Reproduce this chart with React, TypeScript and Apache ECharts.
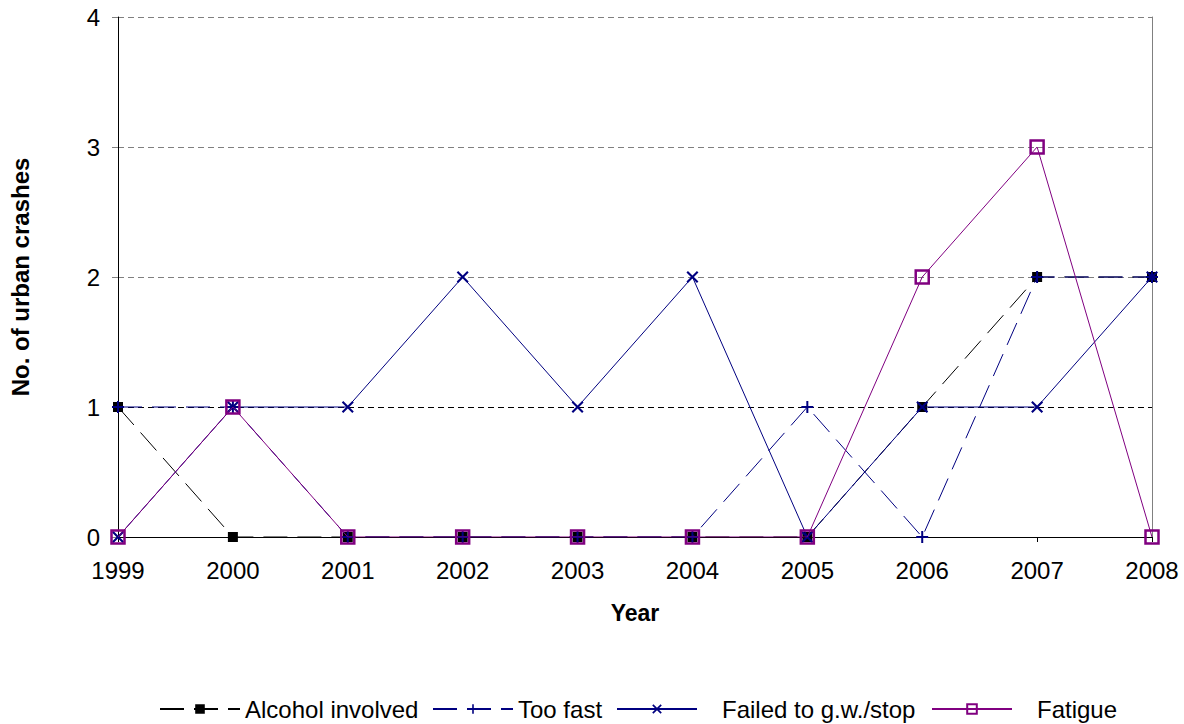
import React, { useEffect, useRef } from "react";
import * as echarts from "echarts";

const years = ["1999", "2000", "2001", "2002", "2003", "2004", "2005", "2006", "2007", "2008"];
const alcohol = [1, 0, 0, 0, 0, 0, 0, 1, 2, 2];
const tooFast = [1, 1, 0, 0, 0, 0, 1, 0, 2, 2];
const failed = [0, 1, 1, 2, 1, 2, 0, 1, 1, 2];
const fatigue = [0, 1, 0, 0, 0, 0, 0, 2, 3, 0];
const seriesNames = ["Alcohol involved", "Too fast", "Failed to g.w./stop", "Fatigue"];

const FONT = "'Liberation Sans', Arial, sans-serif";
const NAVY = "#000080";
const PURPLE = "#800080";

const plusPath = "path://M5,0 L7,0 L7,5 L12,5 L12,7 L7,7 L7,12 L5,12 L5,7 L0,7 L0,5 L5,5 Z";
const xPath = "path://M0,1.5 L1.5,0 L6,4.5 L10.5,0 L12,1.5 L7.5,6 L12,10.5 L10.5,12 L6,7.5 L1.5,12 L0,10.5 L4.5,6 Z";

const legendLefts = [154, 427, 611, 926];
const legendTextPad = [0, 0, 20, 20];

export default function App() {
  const ref = useRef<HTMLDivElement>(null);
  useEffect(() => {
    if (!ref.current) return;
    const chart = echarts.init(ref.current, null, { renderer: "svg" });
    chart.setOption({
      animation: false,
      backgroundColor: "#ffffff",
      grid: { left: 118, right: 32, top: 17, bottom: 187 },
      legend: seriesNames.map((n, i) => ({
        top: 692,
        left: legendLefts[i],
        itemWidth: 80,
        itemHeight: 12,
        itemGap: 0,
        textStyle: {
          fontFamily: FONT,
          fontSize: 24,
          color: "#000",
          padding: [0, 0, 0, legendTextPad[i]],
        },
        data: [n],
      })),
      xAxis: {
        type: "category",
        data: years,
        boundaryGap: false,
        name: "Year",
        nameLocation: "middle",
        nameGap: 64,
        nameTextStyle: { fontFamily: FONT, fontSize: 23, fontWeight: "bold", color: "#000" },
        axisLine: { lineStyle: { color: "#000", width: 1 } },
        axisTick: { show: true, length: 5, lineStyle: { color: "#000" } },
        axisLabel: { fontFamily: FONT, fontSize: 24, color: "#000", margin: 21 },
        splitLine: { show: false },
      },
      yAxis: [
        {
          type: "value",
          min: 0,
          max: 4,
          interval: 1,
          name: "No. of urban crashes",
          nameLocation: "middle",
          nameGap: 86,
          nameRotate: 90,
          nameTextStyle: { fontFamily: FONT, fontSize: 24, fontWeight: "bold", color: "#000" },
          axisLine: { show: true, lineStyle: { color: "#000", width: 1 } },
          axisTick: { show: true, length: 6, lineStyle: { color: "#808080" } },
          axisLabel: { fontFamily: FONT, fontSize: 24, color: "#000", margin: 18 },
          splitLine: {
            show: true,
            lineStyle: {
              color: ["#000", "#000", "#808080", "#808080", "#808080"],
              type: [6, 4],
              width: 1,
            },
          },
        },
        {
          type: "value",
          min: 0,
          max: 4,
          interval: 1,
          position: "right",
          axisLine: { show: true, lineStyle: { color: "#808080", width: 1 } },
          axisTick: { show: false },
          axisLabel: { show: false },
          splitLine: { show: false },
        },
      ],
      series: [
        {
          name: seriesNames[0],
          type: "line",
          data: alcohol,
          symbol: "rect",
          symbolSize: 10,
          itemStyle: { color: "#000" },
          lineStyle: { color: "#000", width: 1, type: [24, 10] },
          z: 2,
        },
        {
          name: seriesNames[1],
          type: "line",
          data: tooFast,
          symbol: plusPath,
          symbolSize: 12,
          itemStyle: { color: NAVY },
          lineStyle: { color: NAVY, width: 1, type: [24, 10] },
          z: 3,
        },
        {
          name: seriesNames[2],
          type: "line",
          data: failed,
          symbol: xPath,
          symbolSize: 12,
          itemStyle: { color: NAVY },
          lineStyle: { color: NAVY, width: 1 },
          z: 4,
        },
        {
          name: seriesNames[3],
          type: "line",
          data: fatigue,
          symbol: "rect",
          symbolSize: 13,
          itemStyle: { color: "rgba(0,0,0,0)", borderColor: PURPLE, borderWidth: 2.5 },
          lineStyle: { color: PURPLE, width: 1 },
          z: 5,
        },
      ],
    });
    return () => chart.dispose();
  }, []);
  return (
    <div
      ref={ref}
      style={{ position: "fixed", left: 0, top: 0, width: 1184, height: 724, background: "#fff" }}
    />
  );
}
